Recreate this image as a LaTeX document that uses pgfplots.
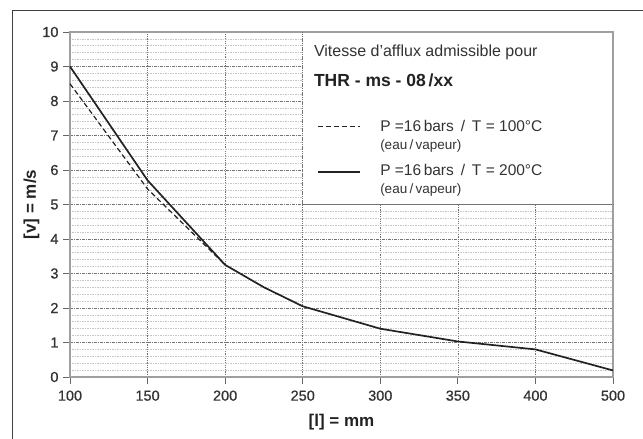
\documentclass[border=0pt]{standalone}
\usepackage{fontspec}
\setmainfont{Liberation Sans}
\newfontfamily\tickfont[FakeBold=0.6]{Liberation Sans}
\usepackage{pgfplots}
\pgfplotsset{compat=1.18}
\usetikzlibrary{calc}
\definecolor{ink}{HTML}{222222}
\definecolor{txt}{HTML}{333333}

\begin{document}
\begin{tikzpicture}
\begin{axis}[
    scale only axis,
    width=543pt, height=345pt,
    xmin=0, xmax=7, ymin=0, ymax=10,
    xtick={0,1,2,3,4,5,6,7},
    xticklabels={100,150,200,250,300,350,400,500},
    ytick={0,1,...,10},
    minor y tick num=4,
    /pgf/number format/assume math mode=true,
    tick label style={font=\tickfont\fontsize{14.5}{17}\selectfont, text=txt},
    xticklabel style={yshift=-3pt},
    yticklabel style={xshift=-1pt},
    tick align=outside,
    major tick length=7pt,
    minor tick length=0pt,
    xtick pos=bottom, ytick pos=left,
    tick style={gray!80!black, line width=0.9pt},
    axis line style={gray!75, line width=1.6pt},
    xmajorgrids, ymajorgrids, yminorgrids,
    major x grid style={gray!90!black, line width=0.6pt, dash pattern=on 1pt off 0.8pt},
    major y grid style={gray!90!black, line width=0.9pt, dash pattern=on 3pt off 1pt on 1pt off 1pt},
    minor grid style={gray!45, line width=0.6pt, dash pattern=on 1.5pt off 1pt},
    xlabel={\textbf{[l] = mm}},
    ylabel={\textbf{[v] = m/s}},
    label style={font=\fontsize{17}{19}\selectfont, text=ink},
    xlabel style={at={(axis description cs:0.5,0)}, anchor=center, yshift=-45pt},
    ylabel style={yshift=-4pt},
    clip=false,
]
% legend box over the grid
\fill[white] (axis cs:3,5) rectangle ([shift={(-1pt,-1pt)}]axis cs:7,10);
\draw[gray!90!black, line width=0.6pt, dash pattern=on 1pt off 0.8pt] (axis cs:3,5) -- (axis cs:3,10);
\draw[gray!90!black, line width=0.9pt, dash pattern=on 3pt off 1pt on 1pt off 1pt] (axis cs:3,5) -- (axis cs:7,5);

% P=16 bars / T=100 C
\addplot[ink, line width=1.2pt, dash pattern=on 5pt off 3pt] coordinates {(0,8.5) (1,5.45) (2,3.25)};
% P=16 bars / T=200 C
\addplot[ink, line width=1.7pt] coordinates {(0,9) (1,5.7) (2,3.25) (2.5,2.6) (3,2.05) (4,1.4) (5,1.03) (6,0.8) (7,0.19)};

\node[anchor=west, text=txt, font=\fontsize{16}{18}\selectfont] at (axis cs:3.10,9.42) {Vitesse d'afflux admissible pour};
\node[anchor=west, text=ink, font=\bfseries\fontsize{17.5}{19}\selectfont] at (axis cs:3.10,8.61) {THR - ms - 08\,/xx};
\draw[ink, line width=1.2pt, dash pattern=on 5pt off 3pt] (axis cs:3.2,7.25) -- (axis cs:3.74,7.25);
\node[anchor=west, text=txt, font=\fontsize{15.5}{17}\selectfont] at (axis cs:3.954,7.27) {P =16\,bars \,/\, T = 100°C};
\node[anchor=west, text=txt, font=\fontsize{13.5}{15}\selectfont] at (axis cs:3.954,6.69) {(eau\,/\,vapeur)};
\draw[ink, line width=1.7pt] (axis cs:3.2,5.94) -- (axis cs:3.74,5.94);
\node[anchor=west, text=txt, font=\fontsize{15.5}{17}\selectfont] at (axis cs:3.954,6.0) {P =16\,bars \,/\, T = 200°C};
\node[anchor=west, text=txt, font=\fontsize{13.5}{15}\selectfont] at (axis cs:3.954,5.42) {(eau\,/\,vapeur)};

\coordinate (ll) at (rel axis cs:0,0);
\coordinate (ur) at (rel axis cs:1,1);
\end{axis}
\path[use as bounding box] ($(ll)+(-70pt,-62pt)$) rectangle ($(ur)+(30pt,32pt)$);
\draw[black!75, line width=0.9pt] ($(ll)+(-58pt,-80pt)$) |- ($(ur)+(50pt,22pt)$);
\end{tikzpicture}
\end{document}
